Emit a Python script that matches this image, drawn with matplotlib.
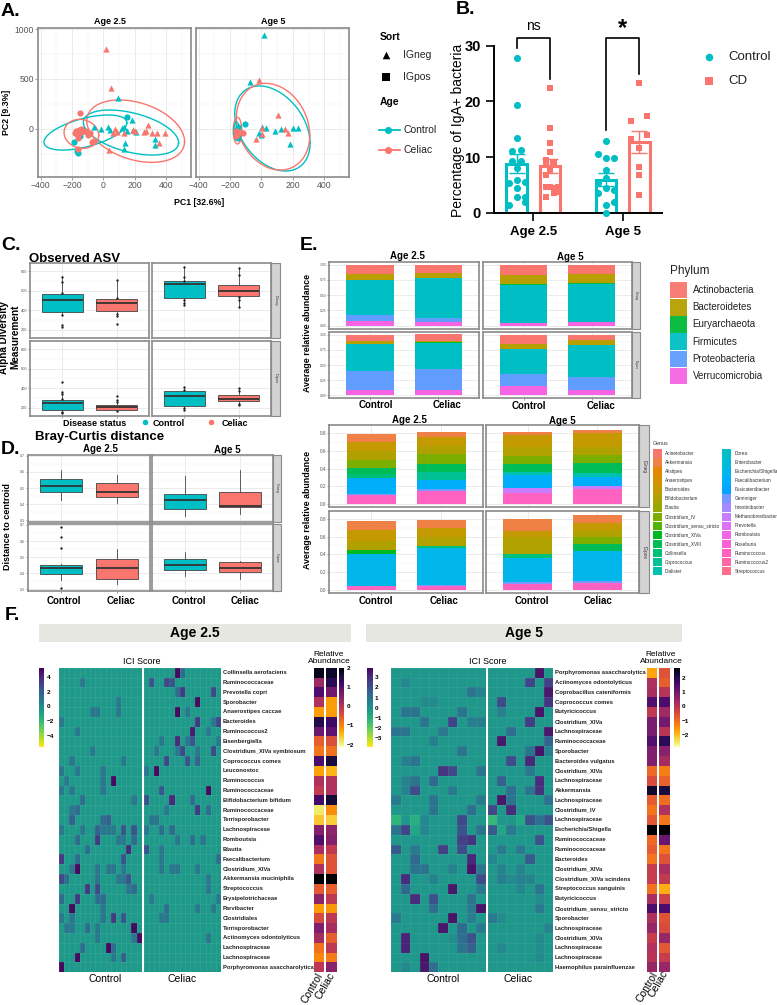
import numpy as np
import matplotlib
matplotlib.use('Agg')
import matplotlib.pyplot as plt
from matplotlib.patches import Rectangle

plt.rcParams['font.family'] = ['Liberation Sans', 'DejaVu Sans']

TEAL = '#00BFC4'
RED = '#F8766D'

# ---- panel A : (PC1, PC2) per group
a_young_teal_tri = [(92,305),(181,87),(-57,20),(-15,0),(26,13),(43,-13),(117,7),(132,13),(149,-23),(191,-13),(209,-30),(138,-141),(128,-205),(330,-104),(330,-164),(-132,-20)]
a_young_red_tri = [(15,799),(51,413),(281,34),(74,-7),(64,-47),(89,-30),(128,-47),(187,-13),(202,-23),(260,-30),(270,-23),(309,-47),(340,-47),(391,-47),(353,-141),(34,-215)]
a_young_teal_sq = [(151,114),(-185,-138),(-170,-221),(-160,-248),(-149,-74),(-132,-13),(-160,-47)]
a_young_red_sq = [(-149,161),(-170,-30),(-165,-50),(-155,-10),(-175,-20),(-160,-75),(-145,-5),(-140,-30),(-180,-45),(-160,-90),(-110,-20),(-100,-65),(-85,-45),(-70,-130),(-60,-125),(-160,-205)]
a_old_teal_tri = [(17,943),(-72,466),(6,20),(32,3),(-15,-40),(-4,-64),(87,-23),(123,-3),(202,3),(230,3),(183,-154)]
a_old_red_tri = [(-15,490),(108,141),(6,3),(6,-57),(-36,-107),(149,-7),(170,-40)]
a_old_teal_sq = [(-104,47),(-160,-10),(-158,-25),(-155,-40),(-160,-55),(-152,15),(-158,-70),(-150,-90)]
a_old_red_sq = [(-117,-47),(-160,-20),(-155,-50),(-162,-75),(-150,-35)]
# ellipses: x range, y range, correlation, colour
a_young_ell = [(-128,479,-265,188,-0.45,TEAL),(-106,517,-339,289,-0.33,RED),(-379,149,-215,138,0.55,TEAL),(-251,-30,-198,94,-0.1,RED)]
a_old_ell = [(-170,310,-426,430,-0.35,TEAL),(-160,308,-416,456,-0.2,RED),(-180,-125,-154,114,0.0,RED),(-176,-140,-118,66,0.0,TEAL)]

# ---- panel B
b_means = [8.8, 8.4, 6.0, 12.7]
b_errs = [1.7, 1.3, 1.2, 2.0]
b_pos = [0, 1, 2.68, 3.68]
b_group_pos = [0.5, 3.18]
b_groups = ['Age 2.5', 'Age 5']
b_points = [
    [(0,27.8),(0,19.3),(0,13.5),(-.13,11.1),(.13,11.3),(-.13,9.3),(.13,9.3),(0,8),(-.23,5.3),(0,6),(.24,5.6),(0,4.4),(0,2.9),(.24,2.9),(.24,2),(-.23,1.4)],
    [(0,22.5),(0,15.2),(0,12.6),(0,11),(-.12,9.5),(.12,9),(-.12,8.9),(0,7.7),(-.12,6.8),(-.12,4.7),(.12,4.4),(0,4.7),(.23,4.7),(-.12,2.9),(.12,3.6),(.23,3.8)],
    [(0,13),(-.24,10.5),(0,9.8),(.24,9.8),(0,7.8),(-.24,5.3),(0,6.2),(0,4.4),(.24,4.1),(-.24,3.6),(0,1.4),(.24,2),(0,0)],
    [(0,23.4),(.24,17.4),(-.24,16.5),(.24,14),(-.24,13.2),(0,11.7),(0,8.3),(0,6.8),(0,3.2)],
]

# ---- panel C : box stats (q1, med, q3, whislo, whishi, fliers) per facet
c_tl = [(378,502,567,355,750,[250,227,354,577,690,742]), (389,478,519,354,714,[714,526,365,337,258])]
c_tr = [(526,673,697,457,845,[845,738,704,502,474,457]), (550,594,656,433,834,[834,766,536,509,433])]
c_bl = [(172,248,283,155,362,[466,362,345,293,155,145]), (179,207,231,166,259,[317,283,259,166])]
c_br = [(214,317,369,172,414,[414,380,200,172]), (266,293,334,224,403,[403,369,241,224])]

# ---- panel D
d_tl = [(.477,.515,.554,.428,.613,[]), (.442,.477,.531,.406,.582,[])]
d_tr = [(.37,.426,.461,.327,.576,[]), (.381,.391,.478,.34,.61,[])]
d_bl = [(.396,.435,.449,.358,.455,[.686,.628,.556,.31]), (.367,.431,.489,.333,.549,[])]
d_br = [(.42,.449,.487,.383,.534,[]), (.405,.431,.468,.367,.477,[])]

# ---- panel E phylum (control, celiac) from the top of the stack
phyla = ['Actinobacteria','Bacteroidetes','Euryarchaeota','Firmicutes','Proteobacteria','Verrucomicrobia']
phylum_cols = ['#F8766D','#B79F00','#00BA38','#00BFC4','#619CFF','#F564E3']
e_tl = [[.158,.098,0,.568,.098,.077], [.137,.087,0,.656,.06,.06]]
e_tr = [[.175,.142,.02,.618,.0,.044], [.153,.142,.027,.617,.0,.06]]
e_bl = [[.098,.055,.005,.443,.317,.082], [.109,.022,.005,.437,.35,.082]]
e_br = [[.153,.077,.003,.415,.202,.148], [.087,.082,.0,.525,.219,.087]]

genera = ['Acinetobacter','Akkermansia','Alistipes','Anaerostipes','Bacteroides','Bifidobacterium','Blautia','Clostridium_IV','Clostridium_sensu_stricto','Clostridium_XIVa','Clostridium_XVIII','Collinsella','Coprococcus','Dialister','Dorea','Enterobacter','Escherichia/Shigella','Faecalibacterium','Fusicatenibacter','Gemmiger','Intestinibacter','Methanobrevibacter','Prevotella','Romboutsia','Roseburia','Ruminococcus','Ruminococcus2','Streptococcus']
# genus abundances in legend order; most genera are too thin to see
g_tl_con = [0,.09,0,0,.098,.098,0,.10,0,0,.06,.053,0,0,0,0,0,.17,0,.02,0,0,0,0,0,.098,0,0]
g_tl_cel = [0,.056,0,0,.105,.09,0,.113,0,0,.086,0,.094,0,0,0,0,.105,0,.015,0,0,0,0,0,.15,0,0]
g_tr_con = [0,.034,0,0,.13,.105,0,.09,0,0,.086,0,0,.038,0,0,0,.147,0,0,0,.06,0,0,0,.12,0,0]
g_tr_cel = [0,.041,0,0,.15,.094,0,.086,0,0,.113,0,0,.053,0,0,0,.098,0,0,0,.038,0,0,0,.165,0,0]
g_bl_con = [0,.094,0,0,.12,.105,0,0,0,.049,0,0,0,0,0,0,.36,0,0,0,0,0,0,0,0,.041,0,0]
g_bl_cel = [0,.086,0,0,.10,.105,0,0,0,0,0,.026,0,0,0,0,.414,0,0,.008,0,0,0,0,0,.045,0,0]
g_br_con = [0,.14,0,0,.068,.188,0,0,0,0,0,.045,0,0,0,0,.274,0,0,.019,0,0,0,0,0,.068,0,0]
g_br_cel = [0,.086,0,0,.075,.083,0,.075,0,0,.075,0,0,0,0,0,.338,0,0,.026,0,0,0,0,0,.079,0,0]

# ---- panel F
f_young_labels = ['Collinsella aerofaciens','Ruminococcaceae','Prevotella copri','Sporobacter','Anaerostipes caccae','Bacteroides','Ruminococcus2','Eisenbergiella','Clostridium_XIVa symbiosum','Coprococcus comes','Leuconostoc','Ruminococcus','Ruminococcaceae','Bifidobacterium bifidum','Ruminococcaceae','Terrisporobacter','Lachnospiraceae','Romboutsia','Blautia','Faecalibacterium','Clostridium_XIVa','Akkermansia muciniphila','Streptococcus','Erysipelotrichaceae','Parvibacter','Clostridiales','Terrisporobacter','Actinomyces odontolyticus','Lachnospiraceae','Lachnospiraceae','Porphyromonas asaccharolytica']
f_old_labels = ['Porphyromonas asaccharolytica','Actinomyces odontolyticus','Coprobacillus cateniformis','Coprococcus comes','Butyricicoccus','Clostridium_XIVa','Lachnospiraceae','Ruminococcaceae','Sporobacter','Bacteroides vulgatus','Clostridium_XIVa','Lachnospiraceae','Akkermansia','Lachnospiraceae','Clostridium_IV','Lachnospiraceae','Escherichia/Shigella','Ruminococcaceae','Ruminococcaceae','Bacteroides','Clostridium_XIVa','Clostridium_XIVa scindens','Streptococcus sanguinis','Butyricicoccus','Clostridium_sensu_stricto','Sporobacter','Lachnospiraceae','Clostridium_XIVa','Lachnospiraceae','Lachnospiraceae','Haemophilus parainfluenzae']

# ICI cells that differ from the background, as (row, column, score)
ici_young_con = [(1,4,1),(3,11,1),(4,6,1),(4,7,1),(4,11,1),(5,0,1),(6,3,1),(8,6,1),(9,2,1),(9,12,1),(10,0,1),(10,3,1),(10,8,1),(11,1,1),(11,8,1),(11,10,5),(12,0,1),(12,2,1),(12,8,1),(13,4,1.5),(13,14,1),(14,2,1),(14,3,1.5),(15,2,2),(15,8,1.5),(15,9,2),(16,0,1),(16,4,1),(16,7,2),(16,8,1),(16,9,1),(16,10,1),(16,12,2.5),(16,14,2.5),(17,3,1.5),(17,7,3.5),(17,11,1),(17,12,1),(17,14,1.5),(18,5,1.5),(18,13,4),(19,0,3.5),(19,3,1.5),(19,12,2.5),(20,2,1),(20,3,5),(20,7,1.2),(20,9,1),(20,10,1),(20,12,1),(21,0,3),(21,1,1.5),(21,7,1.2),(21,11,1),(21,12,1),(21,13,2.5),(22,5,3.5),(22,7,3),(22,13,1),(22,14,1.5),(23,0,1.5),(23,3,3.5),(23,7,1.5),(23,8,1.5),(24,2,5),(24,8,1),(25,0,1),(25,2,1),(25,8,1),(25,10,3.5),(25,12,2.5),(26,1,1),(26,2,1),(26,5,1.5),(26,7,1),(26,14,5),(27,7,1),(27,14,1),(27,15,5),(28,4,1.5),(28,9,5),(28,10,1.5),(29,3,5),(29,10,1),(29,12,2),(30,0,5)]
ici_young_cel = [(0,6,5),(0,7,1.5),(1,1,2.5),(1,4,3),(1,5,2.5),(2,6,1.5),(2,7,3.5),(2,13,3),(3,10,5),(4,6,5),(4,8,1),(5,10,3.5),(5,13,1),(5,14,3),(6,9,4.5),(6,12,1),(7,3,1),(7,6,4),(7,8,1),(7,9,2.5),(7,14,1),(8,2,1),(8,6,1),(8,7,3),(8,10,1),(8,13,3),(9,4,3),(9,8,2.5),(9,10,2),(10,0,1),(10,2,5),(12,3,2.5),(12,12,5),(13,0,2.5),(13,5,4),(13,9,1.5),(14,4,1),(14,10,3.5),(14,12,1.5),(15,1,1.2),(15,2,1.2),(16,0,1),(16,3,1.5),(16,5,1.5),(17,6,1),(17,9,1.5),(17,11,1),(18,0,2.5),(18,3,1),(19,3,1),(19,14,1.5),(20,3,1),(20,5,1),(20,6,1),(20,10,1),(21,12,1),(22,12,1),(23,1,1),(23,14,1),(24,4,1.5),(24,10,1),(24,13,1),(25,3,1),(25,4,1),(27,12,1)]
ici_old_con = [(1,1,.4),(2,8,1),(2,9,.6),(3,3,.3),(3,4,.3),(4,1,1),(4,2,1),(4,7,1),(5,3,1),(5,6,2.4),(5,8,.7),(5,9,.7),(6,0,1),(6,1,1),(6,5,.9),(7,4,.6),(8,7,1),(9,1,.6),(9,2,1),(10,5,2.8),(10,6,2.3),(10,9,1),(11,1,.5),(11,2,1),(11,4,1.3),(12,1,.5),(12,2,2.2),(12,6,.8),(13,0,.8),(13,4,1),(13,9,.8),(14,4,1),(14,8,1.2),(15,0,-1.1),(15,2,-.9),(15,3,.4),(15,7,2.3),(16,0,1),(16,1,2.4),(16,2,-.6),(16,3,.4),(16,7,2),(16,9,1),(17,7,2.5),(17,8,2.8),(18,0,1.8),(18,2,.8),(18,5,2.5),(18,7,2.2),(19,2,1.3),(19,8,3.1),(20,2,1),(20,3,1),(20,6,.5),(20,8,3.6),(20,9,.9),(21,1,3),(21,4,.5),(21,9,2.2),(22,1,1.4),(22,6,3.5),(22,9,.8),(23,2,3),(23,4,2),(23,8,1),(24,4,1.2),(24,8,.8),(24,9,3.6),(25,0,.8),(25,6,3.6),(25,8,.7),(26,5,3.5),(26,7,1.3),(26,9,.8),(27,1,3.2),(27,6,.2),(27,7,1.2),(27,8,2),(28,1,3.2),(28,7,1),(28,8,1.6),(29,3,3.6),(30,1,.3),(30,3,3.5),(30,4,1.2)]
ici_old_cel = [(0,5,3.6),(1,4,2.4),(1,6,2.5),(2,6,3.5),(3,1,2.2),(3,6,2.8),(4,1,.6),(4,5,3.6),(5,4,2.6),(6,2,1.2),(6,6,3.5),(7,1,3.5),(7,6,1.5),(8,4,1),(8,5,3.6),(8,6,.6),(9,2,2.2),(9,4,3.1),(10,4,.8),(11,1,1.6),(11,5,3),(12,2,1.2),(12,4,1),(12,5,2.9),(13,1,3.5),(13,2,1),(13,6,1),(14,0,2.3),(14,2,3),(15,0,-1.2),(15,3,-.7),(15,4,2),(15,5,1.2),(15,6,2),(16,0,1.8),(16,1,-.6),(16,2,.8),(17,5,2),(18,1,.8),(18,3,.8),(19,0,.4),(19,4,1.8),(20,1,.5),(20,3,.5),(21,1,.7),(21,2,.3),(21,3,.6),(21,4,.5),(22,3,.4),(22,5,1),(23,5,.3),(24,5,.8),(25,0,.8),(25,1,.3),(26,6,.5),(27,5,.3),(28,1,.4),(28,5,.2),(29,5,.3)]

ra_young_con = [1.85,.3,1.1,.1,-1.2,1.5,.8,-.6,-.85,1.1,-1.25,.1,-.1,1.2,-1.85,-1.55,.55,1.05,.15,-.85,.1,2.05,-.55,.45,-1.2,-.35,.6,.2,-.8,-1.0,-.05]
ra_young_cel = [1.75,1.45,.75,-1.2,-1.2,1.25,.95,-.4,-.8,1.6,-1.4,.1,.1,1.65,-1.05,-1.6,.45,.55,-.1,-.45,-.45,2.05,-.6,-.05,-1.15,-.05,.2,-.6,-.05,-.9,.5]
ra_old_con = [-1.7,.15,.25,1.4,-.1,.9,.9,1.4,.8,.8,-.95,-.5,2.3,-.75,-1.1,-.7,2.74,-.95,-.75,-1.1,-.2,-.2,-1.05,.2,1.5,.15,.5,-.2,.1,0,.5]
ra_old_cel = [-.6,-.8,.05,1.5,.35,.95,0,1.9,.7,.3,-1.2,-.85,2.15,-1.0,.1,-1.1,2.74,1.1,-1.1,-.6,.2,-.1,-1.8,-.3,1.5,-.6,-.5,.45,-.7,-.2,.45]


def hcl_hex(h, c=100, l=65):
    # ggplot2 hue palette colour, from polar LUV to sRGB
    h = np.deg2rad(h)
    u = c * np.cos(h) / (13 * l) + 0.1978
    v = c * np.sin(h) / (13 * l) + 0.4683
    y = ((l + 16) / 116) ** 3
    x = y * 9 * u / (4 * v)
    z = y * (12 - 3 * u - 20 * v) / (4 * v)
    m = np.array([[3.2406,-1.5372,-0.4986],[-0.9689,1.8758,0.0415],[0.0557,-0.2040,1.0570]])
    rgb = np.clip(m @ np.array([x, y, z]), 0, 1)
    rgb = np.where(rgb <= 0.0031308, 12.92 * rgb, 1.055 * rgb ** (1 / 2.4) - 0.055)
    return tuple(rgb)


genus_cols = [hcl_hex(15 + 360 * i / 28) for i in range(28)]

W, H = 777, 1005
fig = plt.figure(figsize=(W / 100, H / 100), dpi=100)


def add_ax(x0, y0, x1, y1):
    # axes from pixel box, y measured from the top
    return fig.add_axes([x0 / W, 1 - y1 / H, (x1 - x0) / W, (y1 - y0) / H])


def txt(x, y, s, size=6, weight='normal', ha='center', va='center', rot=0, color='black', **kw):
    fig.text(x / W, 1 - y / H, s, fontsize=size, fontweight=weight, ha=ha, va=va, rotation=rot, color=color, **kw)


def gg_axes(ax, xlim, ylim, xticks, yticks, yminor=None, xminor=None, size=3, border='#8a8a8a', lw=1.2):
    ax.set_xlim(*xlim)
    ax.set_ylim(*ylim)
    ax.set_xticks(xticks)
    ax.set_yticks(yticks)
    if yminor is not None:
        ax.set_yticks(yminor, minor=True)
    if xminor is not None:
        ax.set_xticks(xminor, minor=True)
    ax.grid(True, which='major', color='#e8e8e8', lw=0.6)
    ax.grid(True, which='minor', color='#f0f0f0', lw=0.35)
    ax.set_axisbelow(True)
    ax.tick_params(which='minor', length=0)
    ax.tick_params(which='major', length=1.2, width=0.4, labelsize=size, colors='#555555', pad=0.8)
    for s in ax.spines.values():
        s.set_color(border)
        s.set_linewidth(lw)


def strip(x0, y0, x1, y1, label, size=3):
    fig.add_artist(Rectangle((x0 / W, 1 - y1 / H), (x1 - x0) / W, (y1 - y0) / H, transform=fig.transFigure,
                             fc='#D3D3D3', ec='#8a8a8a', lw=0.8))
    txt((x0 + x1) / 2, (y0 + y1) / 2, label, size=size, rot=-90, color='#333333')


# ---- A
def draw_pca(ax, tri_t, tri_r, sq_t, sq_r, ells):
    t = np.linspace(0, 2 * np.pi, 200)
    for xa, xb, ya, yb, rho, col in ells:
        phi = np.arcsin(rho)
        ax.plot((xa + xb) / 2 + (xb - xa) / 2 * np.cos(t), (ya + yb) / 2 + (yb - ya) / 2 * np.sin(t + phi), color=col, lw=1.0)
    for pts, col, mk in [(tri_t, TEAL, '^'), (tri_r, RED, '^'), (sq_t, TEAL, 'o'), (sq_r, RED, 'o')]:
        p = np.array(pts)
        ax.scatter(p[:, 0], p[:, 1], c=col, marker=mk, s=20, linewidths=0, zorder=3)


ax1 = add_ax(38, 28, 191, 177)
ax2 = add_ax(196, 28, 349, 177)
for ax in (ax1, ax2):
    gg_axes(ax, (-417, 558), (-486, 1013), [-400,-200,0,200,400], [0,500,1000],
            yminor=[-250,250,750], xminor=[-300,-100,100,300,500], size=6.2)
    ax.tick_params(which='major', length=2, labelsize=6.2, pad=1)
ax2.tick_params(labelleft=False, left=False)
ax1.set_yticklabels(['0', '500', '1000'])
draw_pca(ax1, a_young_teal_tri, a_young_red_tri, a_young_teal_sq, a_young_red_sq, a_young_ell)
draw_pca(ax2, a_old_teal_tri, a_old_red_tri, a_old_teal_sq, a_old_red_sq, a_old_ell)
txt(110, 22, 'Age 2.5', 6.5, 'bold')
txt(273, 22, 'Age 5', 6.5, 'bold')
txt(199, 202, 'PC1 [32.6%]', 6.3, 'bold')
txt(7, 112, 'PC2 [9.3%]', 6.3, 'bold', rot=90)

# ---- B
axb = add_ax(494, 45.7, 661.7, 213)
axb.set_xlim(-0.68, 4.35)
axb.set_ylim(0, 30)
b_cols = [TEAL, RED, TEAL, RED]
axb.bar(b_pos, b_means, width=0.62, facecolor='none', edgecolor=b_cols, linewidth=2.2, zorder=1)
for i in range(4):
    axb.errorbar(b_pos[i], b_means[i], yerr=b_errs[i], color=b_cols[i], capsize=5.5, capthick=1.0, lw=1.0, zorder=2)
    p = np.array(b_points[i])
    axb.scatter(b_pos[i] + p[:, 0], p[:, 1], c=b_cols[i], marker='o' if i % 2 == 0 else 's', s=26 if i % 2 == 0 else 22,
                linewidths=0, clip_on=False, zorder=3)
for xa, xb, ya, yb in [(0, 1, 29.5, 24.1), (2.68, 3.68, 14.85, 24.9)]:
    axb.plot([xa, xa, xb, xb], [ya, 31.3, 31.3, yb], color='black', lw=1.2, clip_on=False)
axb.text(0.5, 33.5, 'ns', fontsize=10, ha='center', va='center')
axb.text(3.18, 33.0, '*', fontsize=17, fontweight='bold', ha='center', va='center')
axb.set_xticks(b_group_pos)
axb.set_xticklabels(b_groups, fontsize=9.5, fontweight='bold')
axb.set_yticks([0, 10, 20, 30])
axb.set_yticklabels(['0', '10', '20', '30'], fontsize=10.5, fontweight='bold')
axb.tick_params(width=1.2, length=6)
for s in ['top', 'right']:
    axb.spines[s].set_visible(False)
for s in ['left', 'bottom']:
    axb.spines[s].set_linewidth(1.4)
txt(458, 130, 'Percentage of IgA+ bacteria', 10, rot=90)


# ---- C / D boxes
def draw_boxes(ax, stats):
    s = [dict(q1=q1, med=m, q3=q3, whislo=lo, whishi=hi, fliers=fl) for q1, m, q3, lo, hi, fl in stats]
    b = ax.bxp(s, positions=[1, 2], widths=0.75, patch_artist=True, manage_ticks=False,
               boxprops=dict(edgecolor='#444444', lw=0.6), medianprops=dict(color='#333333', lw=1.3),
               whiskerprops=dict(color='#444444', lw=0.6), showcaps=False,
               flierprops=dict(marker='o', ms=1.7, mfc='#222222', mec='#222222', mew=0))
    b['boxes'][0].set_facecolor(TEAL)
    b['boxes'][1].set_facecolor(RED)


c_boxes = [(30, 263, 149, 338, c_tl), (152, 263, 271, 338, c_tr), (30, 341, 149, 416, c_bl), (152, 341, 271, 416, c_br)]
for k, (x0, y0, x1, y1, st) in enumerate(c_boxes):
    ax = add_ax(x0, y0, x1, y1)
    gg_axes(ax, (0.4, 2.6), (114, 886), [1, 2], [200,400,600,800], yminor=[300,500,700], size=2.8)
    draw_boxes(ax, st)
    ax.set_xticklabels([])
    if k % 2 == 1:
        ax.tick_params(labelleft=False, left=False)
    if k < 2:
        ax.tick_params(bottom=False)
strip(271, 263, 280, 338, 'IGneg', 2.8)
strip(271, 341, 280, 416, 'IGpos', 2.8)
txt(29, 259, 'Observed ASV', 9.5, 'bold', ha='left')
txt(10, 337, 'Alpha Diversity\nMeasurement', 7.2, 'bold', rot=90)
txt(95, 423, 'Disease status', 6.5, 'bold')
txt(153, 423, 'Control', 6.5, 'bold', ha='left')
txt(222, 423, 'Celiac', 6.5, 'bold', ha='left')

d_boxes = [(28, 455, 150, 521.7, d_tl), (152, 455, 273, 521.7, d_tr), (28, 524, 150, 591, d_bl), (152, 524, 273, 591, d_br)]
for k, (x0, y0, x1, y1, st) in enumerate(d_boxes):
    ax = add_ax(x0, y0, x1, y1)
    gg_axes(ax, (0.4, 2.6), (0.29, 0.706), [1, 2], [.3,.4,.5,.6,.7], yminor=[.35,.45,.55,.65], size=2.6)
    draw_boxes(ax, st)
    ax.set_xticklabels([])
    if k % 2 == 1:
        ax.tick_params(labelleft=False, left=False)
    if k < 2:
        ax.tick_params(bottom=False)
strip(273, 455, 281, 521.7, 'IGneg', 2.6)
strip(273, 524, 281, 591, 'IGpos', 2.6)
txt(35, 437, 'Bray-Curtis distance', 9.5, 'bold', ha='left')
txt(100, 449, 'Age 2.5', 7, 'bold')
txt(227, 450, 'Age 5', 7, 'bold')
txt(8, 527, 'Distance to centroid', 6.5, 'bold', rot=90)
for x, s in [(64, 'Control'), (120.7, 'Celiac'), (188.7, 'Control'), (245, 'Celiac')]:
    txt(x, 600.7, s, 7, 'bold')


# ---- E stacks
def stacked(ax, rows, cols, width=0.7):
    for pos, vals in zip([1, 2], rows):
        bottom = sum(vals)
        for v, c in zip(vals, cols):
            if v <= 0:
                continue
            bottom -= v
            ax.bar(pos, v, bottom=bottom, width=width, color=c, linewidth=0, zorder=2)


e_boxes = [(329.3, 261.7, 479.3, 328.7, e_tl), (482.7, 261.7, 632.3, 328.7, e_tr), (329.3, 331.7, 479.3, 398.3, e_bl), (482.7, 331.7, 632.3, 398.3, e_br)]
for k, (x0, y0, x1, y1, rows) in enumerate(e_boxes):
    ax = add_ax(x0, y0, x1, y1)
    gg_axes(ax, (0.4, 2.6), (-0.05, 1.05), [1, 2], [0, .25, .5, .75, 1], yminor=[.125,.375,.625,.875], size=2.4)
    ax.set_yticklabels(['0.00', '0.25', '0.50', '0.75', '1.00'])
    stacked(ax, rows, phylum_cols)
    ax.set_xticklabels([])
    if k % 2 == 1:
        ax.tick_params(labelleft=False, left=False)
    if k < 2:
        ax.tick_params(bottom=False)
strip(632.3, 261.7, 640, 328.7, 'IGneg', 2.4)
strip(632.3, 331.7, 640, 398.3, 'IGpos', 2.4)
txt(407, 256, 'Age 2.5', 7, 'bold')
txt(570.7, 256.7, 'Age 5', 7, 'bold')
txt(308, 333, 'Average relative abundance', 6.4, 'bold', rot=90)
for x, y, s in [(376, 405, 'Control'), (447, 405, 'Celiac'), (529, 406, 'Control'), (601, 406, 'Celiac')]:
    txt(x, y, s, 7, 'bold')

g_boxes = [(329.3, 425, 483.3, 507.3, [g_tl_con, g_tl_cel]), (485.7, 425, 639, 507.3, [g_tr_con, g_tr_cel]),
           (329.3, 510.7, 483.3, 593.3, [g_bl_con, g_bl_cel]), (485.7, 510.7, 639, 593.3, [g_br_con, g_br_cel])]
for k, (x0, y0, x1, y1, rows) in enumerate(g_boxes):
    ax = add_ax(x0, y0, x1, y1)
    gg_axes(ax, (0.4, 2.6), (-0.037, 0.89), [1, 2], [0, .2, .4, .6, .8], yminor=[.1,.3,.5,.7], size=3.4)
    ax.set_yticklabels(['0.0', '0.2', '0.4', '0.6', '0.8'])
    stacked(ax, rows, genus_cols)
    ax.set_xticklabels([])
    if k % 2 == 1:
        ax.tick_params(labelleft=False, left=False)
    if k < 2:
        ax.tick_params(bottom=False)
strip(639, 425, 649, 507.3, 'IGneg', 3.4)
strip(639, 510.7, 649, 593.3, 'IGpos', 3.4)
txt(409, 420, 'Age 2.5', 7, 'bold')
txt(562, 421, 'Age 5', 7, 'bold')
txt(308, 510, 'Average relative abundance', 6.4, 'bold', rot=90)
for x, y, s in [(376, 600.7, 'Control'), (444, 600.7, 'Celiac'), (532, 600.7, 'Control'), (598, 600.7, 'Celiac')]:
    txt(x, y, s, 7, 'bold')


# ---- F heatmaps
def ici_matrix(cells, ncol, base):
    m = np.full((31, ncol), float(base))
    for r, c, v in cells:
        m[r, c] = v
    return m


def heat(box, mat, vmin, vmax):
    ax = add_ax(*box)
    ax.pcolormesh(mat, cmap='viridis_r', vmin=vmin, vmax=vmax, antialiased=False)
    # faint cell lines
    ax.set_xticks(np.arange(mat.shape[1] + 1))
    ax.set_yticks(np.arange(32))
    ax.set_xlim(0, mat.shape[1])
    ax.set_ylim(31, 0)
    ax.grid(True, color='white', alpha=0.1, lw=0.4)
    ax.tick_params(length=0, labelleft=False, labelbottom=False)
    for s in ax.spines.values():
        s.set_visible(False)


def ra_cols(box, vals, vmin, vmax):
    ax = add_ax(*box)
    ax.pcolormesh(np.array(vals).reshape(-1, 1), cmap='inferno_r', vmin=vmin, vmax=vmax)
    ax.set_ylim(31, 0)
    ax.axis('off')


def colorbar(box, cmap, vmin, vmax, ticks, labx):
    ax = add_ax(*box)
    ax.imshow(np.linspace(vmax, vmin, 256).reshape(-1, 1), cmap=cmap, vmin=vmin, vmax=vmax, aspect='auto',
              extent=(0, 1, vmin, vmax))
    ax.axis('off')
    y0, y1 = box[1], box[3]
    for t in ticks:
        y = y0 + (vmax - t) / (vmax - vmin) * (y1 - y0)
        txt(labx, y, str(t).replace('-', '\u2212'), 4.6, 'bold', ha='left')


TOP, BOT = 667.7, 972.3
heat((59, TOP, 141.7, BOT), ici_matrix(ici_young_con, 16, -0.5), -5.4, 5.3)
heat((143.7, TOP, 221, BOT), ici_matrix(ici_young_cel, 15, -0.5), -5.4, 5.3)
heat((391.3, TOP, 485.7, BOT), ici_matrix(ici_old_con, 10, -0.15), -3.82, 4.0)
heat((487.7, TOP, 553.3, BOT), ici_matrix(ici_old_cel, 7, -0.15), -3.82, 4.0)
ra_cols((313.7, TOP, 324, BOT), ra_young_con, -2.1, 2.05)
ra_cols((326, TOP, 336.7, BOT), ra_young_cel, -2.1, 2.05)
ra_cols((646.7, TOP, 656.7, BOT), ra_old_con, -2.8, 2.74)
ra_cols((659.3, TOP, 670, BOT), ra_old_cel, -2.8, 2.74)
colorbar((39.3, TOP, 44.3, 746.7), 'viridis_r', -5.4, 5.3, [4, 2, 0, -2, -4], 47)
colorbar((367.3, TOP, 372.7, 747), 'viridis_r', -3.82, 4.0, [3, 2, 1, 0, -1, -2, -3], 375)
colorbar((339.3, TOP, 344.3, 747), 'inferno_r', -2.1, 2.05, [2, 1, 0, -1, -2], 347)
colorbar((673.7, TOP, 679, 747), 'inferno_r', -2.8, 2.74, [2, 1, 0, -1, -2], 681.7)

rh = (BOT - TOP) / 31
for i, s in enumerate(f_young_labels):
    txt(222.7, TOP + (i + 0.5) * rh, s, 4.2, 'bold', ha='left', color='#222222')
for i, s in enumerate(f_old_labels):
    txt(555, TOP + (i + 0.5) * rh, s, 4.2, 'bold', ha='left', color='#222222')

for x0, x1, s in [(38.7, 351, 'Age 2.5'), (366, 682, 'Age 5')]:
    fig.add_artist(Rectangle((x0 / W, 1 - 642 / H), (x1 - x0) / W, 17.7 / H, transform=fig.transFigure, fc='#E6E7E0', ec='none'))
    txt((x0 + x1) / 2, 633, s, 10, 'bold')
txt(142, 661, 'ICI Score', 6.5)
txt(488, 661, 'ICI Score', 6.5)
txt(329, 658, 'Relative\nAbundance', 6, linespacing=0.95)
txt(661, 658, 'Relative\nAbundance', 6, linespacing=0.95)
for x, s in [(105, 'Control'), (182, 'Celiac'), (443, 'Control'), (518, 'Celiac')]:
    txt(x, 979, s, 7.5)
for x, y, s in [(312, 988, 'Control'), (325, 986, 'Celiac'), (647, 987, 'Control'), (658, 984, 'Celiac')]:
    txt(x, y, s, 7.5, rot=60)

# ---- overlay for legends
ov = fig.add_axes([0, 0, 1, 1], zorder=10)
ov.set_xlim(0, W)
ov.set_ylim(H, 0)
ov.axis('off')
txt(380, 37, 'Sort', 7.5, 'bold', ha='left')
ov.scatter([386], [55], marker='^', c='black', s=30, linewidths=0)
ov.scatter([386], [77], marker='s', c='black', s=26, linewidths=0)
txt(403, 55, 'IGneg', 7.5, ha='left', color='#222222')
txt(403, 77, 'IGpos', 7.5, ha='left', color='#222222')
txt(380, 102, 'Age', 7.5, 'bold', ha='left')
for y, c, s in [(130, TEAL, 'Control'), (150, RED, 'Celiac')]:
    ov.plot([379, 400], [y, y], color=c, lw=1.3)
    ov.scatter([387.5], [y], c=c, s=26, linewidths=0, zorder=3)
    txt(404, y, s, 7.5, ha='left', color='#222222')

ov.scatter([709], [57], c=TEAL, marker='o', s=30, linewidths=0)
ov.scatter([709], [81], c=RED, marker='s', s=28, linewidths=0)
txt(728, 57, 'Control', 9.5, ha='left', color='#222222')
txt(728, 81, 'CD', 9.5, ha='left', color='#222222')

ov.scatter([145], [422], c=TEAL, s=16, linewidths=0)
ov.scatter([211], [422], c=RED, s=16, linewidths=0)

txt(670, 271, 'Phylum', 8.5, ha='left', color='#222222')
for i, (n, c) in enumerate(zip(phyla, phylum_cols)):
    y = 281.7 + i * 17.2
    ov.add_patch(Rectangle((670, y), 17.3, 16.6, fc=c, ec='none', alpha=0.95))
    txt(692.7, y + 8.3, n, 7, ha='left', color='#222222')

txt(652.3, 443.3, 'Genus', 3.8, ha='left', color='#333333')
for i, (n, c) in enumerate(zip(genera, genus_cols)):
    col, row = divmod(i, 14)
    y = 449.3 + row * 9.03
    ov.add_patch(Rectangle((652.7 + col * 69.6, y), 9, 8.7, fc=c, ec='none'))
    txt(665 + col * 69.3, y + 4.4, n, 3.4, ha='left', color='#333333')

for x, y, s in [(1, 11, 'A.'), (456, 9, 'B.'), (1, 246, 'C.'), (1, 449, 'D.'), (300, 246, 'E.'), (5, 616, 'F.')]:
    txt(x, y, s, 14, 'bold', ha='left')

fig.savefig('out.png', dpi=100)
